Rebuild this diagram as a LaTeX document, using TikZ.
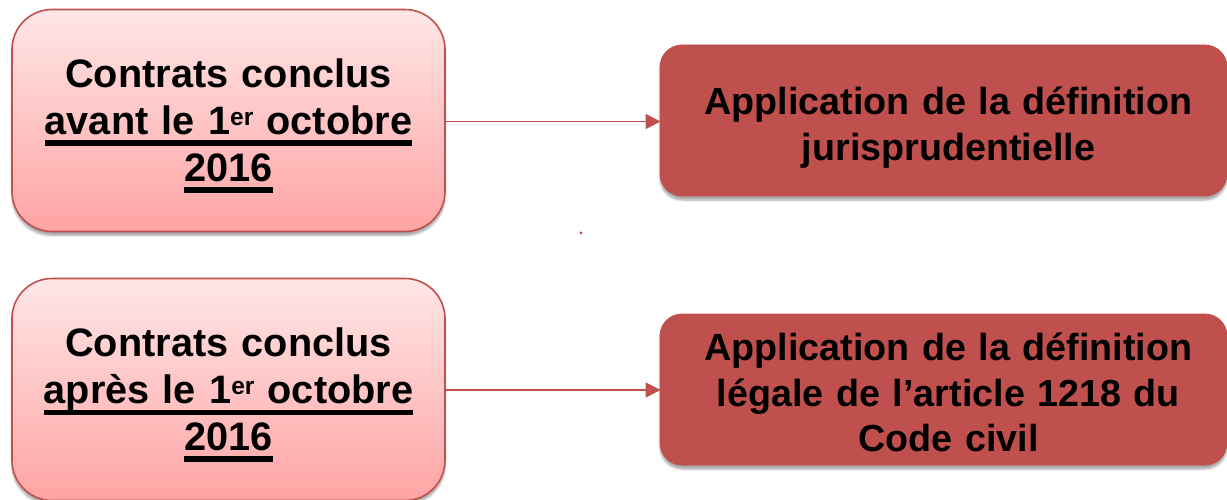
\documentclass[tikz,border=0pt]{standalone}
\usepackage{fontspec}
\setmainfont{Liberation Sans}
\usetikzlibrary{arrows.meta,shadows.blur}
\newsavebox\myulbox
\newcommand\myul[1]{\leavevmode\sbox\myulbox{#1}\rlap{\rule[-11.5pt]{\wd\myulbox}{5.5pt}}\usebox\myulbox}
\newcommand\topstrut[1]{\rule{0pt}{#1}}
\newcommand\botstrut[1]{\rule[-#1]{0pt}{#1}}
\newcommand\supr[1]{\raisebox{9pt}{\fontsize{24.5}{24.5}\selectfont #1}}
\newcommand\rs{\hspace*{10pt}}
\definecolor{boxred}{RGB}{192,80,77}
\definecolor{pinktop}{RGB}{255,230,230}
\definecolor{pinkbot}{RGB}{255,164,164}
\tikzset{
  leftbox/.style={draw=boxred, line width=1.6pt, rounded corners=40pt,
    top color=pinktop, bottom color=pinkbot,
    minimum width=433pt, minimum height=222pt, inner sep=0pt,
    text width=420pt, align=center,
    font=\fontsize{39.7}{46.7}\selectfont\bfseries,
    blur shadow={shadow xshift=0pt, shadow yshift=-4pt, shadow blur steps=6, shadow opacity=35}},
  rightbox/.style={draw=boxred, line width=0.8pt, fill=boxred, rounded corners=22pt,
    minimum width=567pt, minimum height=151pt, inner sep=0pt,
    text width=550pt, align=center,
    font=\fontsize{37.7}{45.5}\selectfont\bfseries,
    blur shadow={shadow xshift=0pt, shadow yshift=-4pt, shadow blur steps=6, shadow opacity=35}},
  arr/.style={draw=boxred, line width=1.6pt, -{Triangle[length=15pt,width=15pt]}, shorten >=-1pt}
}
\begin{document}
\begin{tikzpicture}[x=1pt,y=-1pt]
\useasboundingbox (0,0) rectangle (1227,500);
\node[leftbox] (l1) at (228.5,120.5) {\topstrut{39.5pt}Contrats conclus\\\myul{avant le 1\supr{er} octobre}\\\myul{2016}\botstrut{11.5pt}};
\node[leftbox] (l2) at (228.5,389.5) {\topstrut{39.5pt}Contrats conclus\\\myul{après le 1\supr{er} octobre}\\\myul{2016}\botstrut{11.5pt}};
\node[rightbox] (r1) at (943.5,120.5) {\rs\topstrut{44.5pt}Application de la définition\\\rs jurisprudentielle\botstrut{10pt}};
\node[rightbox] (r2) at (943.5,389.5) {\rs\topstrut{43pt}Application de la définition\\\rs légale de l’article 1218 du\\\rs Code civil\botstrut{10pt}};
\draw[arr] (l1.east |- 0,121.5) coordinate (a1) -- (r1.west |- a1);
\draw[arr] (l2.east |- 0,390) coordinate (a2) -- (r2.west |- a2);
\fill[boxred] (581,233) circle (1.6pt) coordinate (dot);
\end{tikzpicture}
\end{document}
